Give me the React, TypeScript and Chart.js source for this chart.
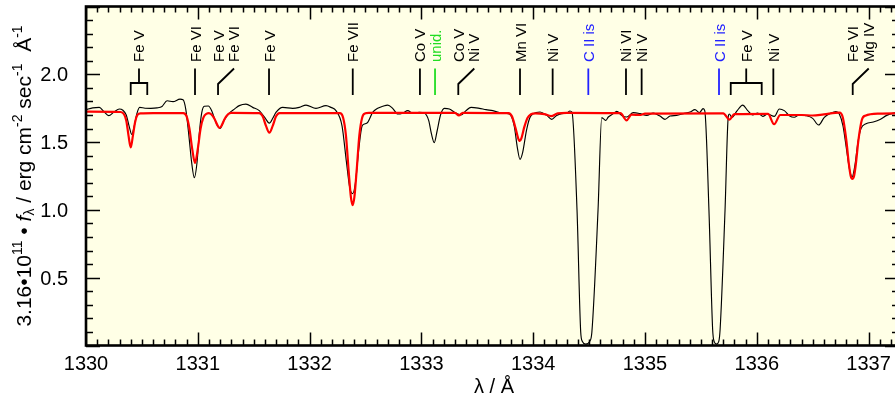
import React, { useEffect, useRef } from "react";
import { Chart, registerables } from "chart.js";

Chart.register(...registerables);

// ---------- data ----------
const obsWave = [
  1330.000, 1330.060, 1330.119, 1330.160, 1330.203, 1330.250, 1330.298, 1330.330, 1330.360, 1330.385,
  1330.409, 1330.432, 1330.455, 1330.480, 1330.528, 1330.580, 1330.635, 1330.680, 1330.725, 1330.778,
  1330.841, 1330.868, 1330.893, 1330.920, 1330.945, 1330.969, 1330.993, 1331.015, 1331.036, 1331.058,
  1331.094, 1331.125, 1331.160, 1331.199, 1331.234, 1331.282, 1331.330, 1331.371, 1331.431, 1331.491,
  1331.550, 1331.600, 1331.640, 1331.673, 1331.699, 1331.759, 1331.849, 1331.908, 1331.968, 1332.057,
  1332.147, 1332.191, 1332.236, 1332.290, 1332.330, 1332.360, 1332.385, 1332.410, 1332.440, 1332.470,
  1332.489, 1332.520, 1332.564, 1332.609, 1332.654, 1332.699, 1332.743, 1332.788, 1332.833, 1332.878,
  1332.922, 1332.981, 1333.026, 1333.065, 1333.090, 1333.115, 1333.140, 1333.171, 1333.205, 1333.250,
  1333.309, 1333.354, 1333.399, 1333.444, 1333.518, 1333.578, 1333.638, 1333.727, 1333.786, 1333.830,
  1333.860, 1333.882, 1333.905, 1333.940, 1333.970, 1334.001, 1334.061, 1334.121, 1334.166, 1334.210,
  1334.255, 1334.300, 1334.329, 1334.347, 1334.392, 1334.425, 1334.440, 1334.470, 1334.505, 1334.525,
  1334.580, 1334.613, 1334.627, 1334.650, 1334.672, 1334.717, 1334.747, 1334.792, 1334.836, 1334.895,
  1334.955, 1335.015, 1335.074, 1335.134, 1335.179, 1335.224, 1335.283, 1335.343, 1335.403, 1335.447,
  1335.487, 1335.520, 1335.535, 1335.572, 1335.605, 1335.618, 1335.640, 1335.660, 1335.672, 1335.716,
  1335.745, 1335.754, 1335.778, 1335.823, 1335.874, 1335.919, 1335.963, 1336.008, 1336.053, 1336.097,
  1336.157, 1336.202, 1336.246, 1336.291, 1336.335, 1336.380, 1336.440, 1336.500, 1336.553, 1336.604,
  1336.664, 1336.708, 1336.738, 1336.771, 1336.802, 1336.829, 1336.852, 1336.878, 1336.905, 1336.932,
  1336.977, 1337.042, 1337.102, 1337.162, 1337.221, 1337.272,
];
const obsFlux = [
  1.739, 1.752, 1.756, 1.725, 1.695, 1.722, 1.744, 1.735, 1.700, 1.620,
  1.557, 1.620, 1.710, 1.756, 1.750, 1.749, 1.752, 1.763, 1.805, 1.798,
  1.817, 1.812, 1.740, 1.550, 1.350, 1.238, 1.350, 1.580, 1.720, 1.764,
  1.766, 1.730, 1.650, 1.600, 1.660, 1.714, 1.745, 1.769, 1.780, 1.756,
  1.732, 1.680, 1.640, 1.680, 1.719, 1.756, 1.749, 1.756, 1.773, 1.749,
  1.769, 1.756, 1.732, 1.620, 1.350, 1.160, 1.120, 1.200, 1.450, 1.620,
  1.633, 1.646, 1.719, 1.749, 1.764, 1.773, 1.749, 1.707, 1.714, 1.732,
  1.714, 1.719, 1.714, 1.660, 1.560, 1.496, 1.580, 1.700, 1.749, 1.744,
  1.714, 1.700, 1.732, 1.756, 1.749, 1.739, 1.732, 1.714, 1.707, 1.620,
  1.450, 1.373, 1.420, 1.587, 1.680, 1.710, 1.722, 1.697, 1.668, 1.697,
  1.710, 1.714, 1.729, 1.720, 1.000, 0.100, 0.030, 0.010, 0.030, 0.100,
  1.000, 1.680, 1.673, 1.660, 1.685, 1.710, 1.727, 1.697, 1.685, 1.717,
  1.710, 1.697, 1.714, 1.692, 1.668, 1.692, 1.697, 1.710, 1.722, 1.739,
  1.717, 1.747, 1.730, 1.000, 0.120, 0.030, 0.010, 0.030, 0.120, 1.000,
  1.690, 1.707, 1.683, 1.730, 1.773, 1.732, 1.700, 1.714, 1.690, 1.707,
  1.690, 1.744, 1.732, 1.695, 1.683, 1.700, 1.695, 1.675, 1.626, 1.683,
  1.714, 1.725, 1.707, 1.620, 1.450, 1.300, 1.243, 1.330, 1.500, 1.600,
  1.636, 1.648, 1.666, 1.697, 1.714, 1.720,
];

const modelWave = [
  1330.000, 1330.310, 1330.340, 1330.360, 1330.380, 1330.400, 1330.420, 1330.440, 1330.460, 1330.490,
  1330.600, 1330.870, 1330.900, 1330.925, 1330.950, 1330.975, 1331.000, 1331.025, 1331.050, 1331.080,
  1331.100, 1331.120, 1331.150, 1331.175, 1331.195, 1331.215, 1331.240, 1331.270, 1331.300, 1331.550,
  1331.580, 1331.610, 1331.640, 1331.670, 1331.700, 1331.730, 1332.270, 1332.300, 1332.325, 1332.350,
  1332.370, 1332.385, 1332.400, 1332.420, 1332.445, 1332.470, 1332.500, 1332.530, 1333.300, 1333.335,
  1333.370, 1333.780, 1333.810, 1333.840, 1333.865, 1333.880, 1333.895, 1333.920, 1333.950, 1333.980,
  1334.020, 1334.100, 1334.160, 1334.220, 1334.300, 1334.780, 1334.835, 1334.880, 1334.960, 1335.000,
  1335.700, 1335.755, 1335.800, 1336.100, 1336.155, 1336.210, 1336.400, 1336.500, 1336.600, 1336.740,
  1336.770, 1336.800, 1336.825, 1336.840, 1336.855, 1336.870, 1336.885, 1336.910, 1336.940, 1336.970,
  1337.100, 1337.272,
];
const modelFlux = [
  1.725, 1.722, 1.705, 1.660, 1.550, 1.460, 1.550, 1.650, 1.700, 1.712,
  1.714, 1.714, 1.690, 1.600, 1.450, 1.346, 1.450, 1.600, 1.680, 1.710,
  1.714, 1.705, 1.670, 1.625, 1.604, 1.625, 1.670, 1.705, 1.716, 1.714,
  1.690, 1.620, 1.570, 1.620, 1.690, 1.714, 1.714, 1.680, 1.550, 1.280,
  1.090, 1.035, 1.090, 1.280, 1.550, 1.680, 1.712, 1.716, 1.716, 1.697,
  1.716, 1.714, 1.690, 1.610, 1.530, 1.508, 1.530, 1.610, 1.680, 1.705,
  1.712, 1.706, 1.692, 1.712, 1.716, 1.713, 1.660, 1.702, 1.700, 1.710,
  1.712, 1.666, 1.706, 1.708, 1.632, 1.700, 1.700, 1.696, 1.705, 1.718,
  1.680, 1.520, 1.330, 1.250, 1.228, 1.250, 1.330, 1.520, 1.665, 1.695,
  1.710, 1.712,
];

const xTickLabels = [1330, 1331, 1332, 1333, 1334, 1335, 1336, 1337];
const yTickLabels = [0.5, 1.0, 1.5, 2.0];

// line identifications
const idText = ["Fe V", "Fe VI", "Fe V", "Fe V", "Fe VII", "Co V", "unid.", "Co V", "Mn VI", "Ni V", "C II is", "Ni VI", "Ni V", "C II is", "Fe V", "Ni V", "Fe VI"];
const idText2 = ["", "", "Fe VI", "", "", "", "", "Ni V", "", "", "", "", "", "", "", "", "Mg IV"];
const idWave = [1330.400, 1330.975, 1331.181, 1331.637, 1332.386, 1332.987, 1333.122, 1333.330, 1333.882, 1334.174, 1334.493, 1334.830, 1334.970, 1335.662, 1335.767, 1336.148, 1336.858];
const idWave2 = [1330.548, 0, 0, 0, 0, 0, 0, 0, 0, 0, 0, 0, 0, 0, 1336.044, 0, 0];
const idColor = ["#000", "#000", "#000", "#000", "#000", "#000", "#22dd22", "#000", "#000", "#000", "#2222ff", "#000", "#000", "#2222ff", "#000", "#000", "#000"];

const FONT = '"Liberation Sans", Arial, Helvetica, sans-serif';

function drawYTitle(ctx: CanvasRenderingContext2D, baseX: number, centerY: number) {
  const segs = [
    { t: "3.16•10", s: 21, dy: 0, it: false },
    { t: "11", s: 14, dy: -9.5, it: false },
    { t: " • ", s: 21, dy: 0, it: false },
    { t: "f", s: 21, dy: 0, it: true },
    { t: "λ", s: 14, dy: 3, it: false },
    { t: " / erg cm", s: 21, dy: 0, it: false },
    { t: "-2", s: 14, dy: -9.5, it: false },
    { t: " sec", s: 21, dy: 0, it: false },
    { t: "-1", s: 14, dy: -9.5, it: false },
    { t: "  Å", s: 21, dy: 0, it: false },
    { t: "-1", s: 14, dy: -9.5, it: false },
  ];
  let total = 0;
  const widths: number[] = [];
  for (const sg of segs) {
    ctx.font = `${sg.it ? "italic " : ""}${sg.s}px ${FONT}`;
    const w = ctx.measureText(sg.t).width;
    widths.push(w);
    total += w;
  }
  ctx.save();
  ctx.translate(baseX, centerY + total / 2);
  ctx.rotate(-Math.PI / 2);
  ctx.fillStyle = "#000";
  ctx.textAlign = "left";
  ctx.textBaseline = "alphabetic";
  let x = 0;
  segs.forEach((sg, i) => {
    ctx.font = `${sg.it ? "italic " : ""}${sg.s}px ${FONT}`;
    ctx.fillText(sg.t, x, sg.dy);
    x += widths[i];
  });
  ctx.restore();
}

function drawVText(ctx: CanvasRenderingContext2D, text: string, cx: number, bottomY: number, color: string) {
  ctx.save();
  ctx.font = `15px ${FONT}`;
  ctx.fillStyle = color;
  ctx.translate(cx + 5.5, bottomY);
  ctx.rotate(-Math.PI / 2);
  ctx.textAlign = "left";
  ctx.textBaseline = "alphabetic";
  ctx.fillText(text, 0, 0);
  ctx.restore();
}

const decorPlugin = {
  id: "decor",
  beforeDraw(chart: any) {
    const { ctx, chartArea: a } = chart;
    ctx.save();
    ctx.fillStyle = "#ffffe6";
    ctx.fillRect(a.left, a.top, a.right - a.left, a.bottom - a.top);
    ctx.restore();
  },
  afterDatasetsDraw(chart: any) {
    const { ctx, chartArea: a } = chart;
    const xs = chart.scales.x;
    const ys = chart.scales.y;
    ctx.save();
    ctx.strokeStyle = "#000";
    ctx.lineWidth = 1.5;
    const nx = Math.round((xs.max - xs.min) * 10);
    for (let i = 0; i <= nx; i++) {
      const v = xs.min + i / 10;
      const px = Math.round(xs.getPixelForValue(v)) + 0.5;
      const len = i % 10 === 0 ? 13 : 6;
      ctx.beginPath();
      ctx.moveTo(px, a.bottom);
      ctx.lineTo(px, a.bottom - len);
      ctx.moveTo(px, a.top);
      ctx.lineTo(px, a.top + len);
      ctx.stroke();
    }
    for (let i = 0; i <= 25; i++) {
      const v = i / 10;
      const py = Math.round(ys.getPixelForValue(v)) + 0.5;
      const len = i % 5 === 0 ? 14 : 7;
      ctx.beginPath();
      ctx.moveTo(a.left, py);
      ctx.lineTo(a.left + len, py);
      ctx.moveTo(a.right, py);
      ctx.lineTo(a.right - len, py);
      ctx.stroke();
    }
    ctx.lineWidth = 2.6;
    ctx.strokeRect(a.left, a.top, a.right - a.left, a.bottom - a.top);

    ctx.fillStyle = "#000";
    ctx.font = `20px ${FONT}`;
    ctx.textAlign = "center";
    ctx.textBaseline = "alphabetic";
    xTickLabels.forEach((v) => {
      ctx.fillText(String(v), xs.getPixelForValue(v), a.bottom + 24);
    });
    ctx.textAlign = "right";
    yTickLabels.forEach((v) => {
      ctx.fillText(v.toFixed(1), 68, ys.getPixelForValue(v) + 7);
    });
    ctx.textAlign = "center";
    ctx.fillText("λ / Å", 494, 393);
    drawYTitle(ctx, 31, (a.top + a.bottom) / 2);

    const stemTop = 68.5;
    const stemBot = 95;
    const joinY = 83;
    const textBottom = 62;
    ctx.lineWidth = 1.8;
    idText.forEach((t, i) => {
      const color = idColor[i];
      ctx.strokeStyle = color;
      const x1 = xs.getPixelForValue(idWave[i]);
      if (idWave2[i]) {
        const x2 = xs.getPixelForValue(idWave2[i]);
        const xm = (x1 + x2) / 2;
        ctx.beginPath();
        ctx.moveTo(x1, stemBot);
        ctx.lineTo(x1, joinY);
        ctx.lineTo(x2, joinY);
        ctx.lineTo(x2, stemBot);
        ctx.moveTo(xm, joinY);
        ctx.lineTo(xm, stemTop);
        ctx.stroke();
        drawVText(ctx, t, xm, textBottom, color);
      } else if (idText2[i]) {
        ctx.beginPath();
        ctx.moveTo(x1, stemBot);
        ctx.lineTo(x1, joinY + 1);
        ctx.lineTo(x1 + 16, stemTop);
        ctx.stroke();
        drawVText(ctx, t, x1, textBottom, color);
        drawVText(ctx, idText2[i], x1 + 15.5, textBottom, color);
      } else {
        ctx.beginPath();
        ctx.moveTo(x1, stemBot);
        ctx.lineTo(x1, stemTop);
        ctx.stroke();
        drawVText(ctx, t, x1, textBottom, color);
      }
    });
    ctx.restore();
  },
};

export default function App() {
  const ref = useRef<HTMLCanvasElement | null>(null);
  useEffect(() => {
    if (!ref.current) return;
    const modelPts = modelWave.map((w, i) => ({ x: w, y: modelFlux[i] }));
    const obsPts = obsWave.map((w, i) => ({ x: w, y: obsFlux[i] }));
    const chart = new Chart(ref.current, {
      type: "line",
      data: {
        datasets: [
          {
            data: modelPts,
            borderColor: "#ff0000",
            borderWidth: 2.2,
            pointRadius: 0,
            cubicInterpolationMode: "monotone",
          },
          {
            data: obsPts,
            borderColor: "#000000",
            borderWidth: 1.15,
            pointRadius: 0,
            cubicInterpolationMode: "monotone",
          },
        ],
      },
      options: {
        responsive: false,
        animation: false,
        devicePixelRatio: 1,
        layout: { padding: { left: 86, top: 6.5, right: 6, bottom: 53.5 } },
        scales: {
          x: { type: "linear", min: 1330, max: 1337.272, display: false },
          y: { type: "linear", min: 0, max: 2.5, display: false },
        },
        plugins: { legend: { display: false }, tooltip: { enabled: false } },
      },
      plugins: [decorPlugin],
    } as any);
    return () => chart.destroy();
  }, []);
  return (
    <div style={{ position: "fixed", left: 0, top: 0, width: 895, height: 399, overflow: "hidden", background: "#fff" }}>
      <canvas ref={ref} width={905} height={399} style={{ display: "block", width: 905, height: 399 }} />
    </div>
  );
}
